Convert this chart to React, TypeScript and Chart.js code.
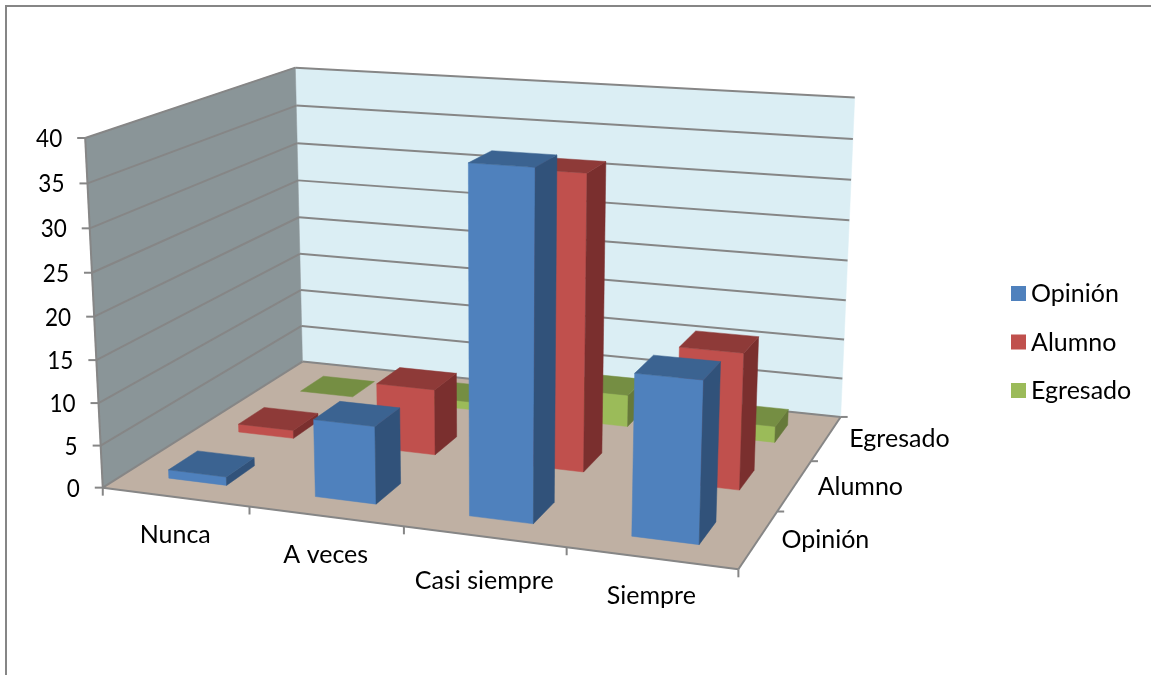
import React, { useEffect, useRef } from "react";
import { Chart, BarController, registerables } from "chart.js";

// Chart content
const categories = ["Nunca", "A veces", "Casi siempre", "Siempre"];
const depthLabels = ["Opinión", "Alumno", "Egresado"];
const opinion = [1, 9, 39, 18];
const alumno = [1, 8, 35, 16];
const egresado = [0, 1, 4, 2];
const valueTicks = [0, 5, 10, 15, 20, 25, 30, 35, 40];

// Face colours per series: front, top, side
const blueFaces = ["#4f81bd", "#3b6391", "#31527a"];
const redFaces = ["#c0504d", "#8e3a38", "#7a2f2e"];
const greenFaces = ["#9bbb59", "#758e43", "#66793a"];

// Perspective camera: where the corners of the unit box land on the canvas
const boxCorners: [number[], number[]][] = [
  [[0, 0, 0], [103.3, 487.5]],
  [[1, 0, 0], [738, 570]],
  [[1, 1, 0], [841, 416]],
  [[0, 1, 0], [302, 362]],
  [[0, 0, 1], [85, 137.5]],
  [[0, 1, 1], [295.5, 67.7]],
  [[1, 1, 1], [854.7, 98]],
];

// Extra drop of the category labels below the front edge
const categoryDrop = [38, 39, 44, 38];

function solve(a: number[][], b: number[]) {
  const n = b.length;
  const m = a.map((row, i) => [...row, b[i]]);
  for (let c = 0; c < n; c++) {
    let p = c;
    for (let r = c + 1; r < n; r++) if (Math.abs(m[r][c]) > Math.abs(m[p][c])) p = r;
    [m[c], m[p]] = [m[p], m[c]];
    for (let r = 0; r < n; r++) {
      if (r === c) continue;
      const f = m[r][c] / m[c][c];
      for (let k = c; k <= n; k++) m[r][k] -= f * m[c][k];
    }
  }
  return m.map((row, i) => row[n] / row[i]);
}

function buildCamera() {
  const rows: number[][] = [];
  const rhs: number[] = [];
  for (const [[u, v, w], [x, y]] of boxCorners) {
    rows.push([u, v, w, 1, 0, 0, 0, 0, -x * u, -x * v, -x * w]);
    rhs.push(x);
    rows.push([0, 0, 0, 0, u, v, w, 1, -y * u, -y * v, -y * w]);
    rhs.push(y);
  }
  const ata = Array.from({ length: 11 }, (_, i) =>
    Array.from({ length: 11 }, (_, j) => rows.reduce((s, r) => s + r[i] * r[j], 0))
  );
  const atb = Array.from({ length: 11 }, (_, i) => rows.reduce((s, r, k) => s + r[i] * rhs[k], 0));
  return solve(ata, atb);
}

const cam = buildCamera();
function project(u: number, v: number, w: number): [number, number] {
  const d = cam[8] * u + cam[9] * v + cam[10] * w + 1;
  return [
    (cam[0] * u + cam[1] * v + cam[2] * w + cam[3]) / d,
    (cam[4] * u + cam[5] * v + cam[6] * w + cam[7]) / d,
  ];
}

function fillPoly(ctx: CanvasRenderingContext2D, pts: [number, number][], color: string) {
  ctx.beginPath();
  pts.forEach(([x, y], i) => (i ? ctx.lineTo(x, y) : ctx.moveTo(x, y)));
  ctx.closePath();
  ctx.fillStyle = color;
  ctx.fill();
  ctx.strokeStyle = color;
  ctx.lineWidth = 0.5;
  ctx.stroke();
}

function strokeLine(ctx: CanvasRenderingContext2D, a: [number, number], b: [number, number]) {
  ctx.beginPath();
  ctx.moveTo(a[0], a[1]);
  ctx.lineTo(b[0], b[1]);
  ctx.stroke();
}

// Bar controller that paints each bar as a prism standing on the projected floor
class Bar3DController extends BarController {
  static id = "bar3d";
  static defaults = { ...BarController.defaults };
  static overrides = BarController.overrides;

  draw() {
    const chart = this.chart;
    const ctx = chart.ctx;
    const { x: xs, y: ys, depth } = chart.scales as any;
    const meta = this.getMeta();
    const slot = depth.width / depth.ticks.length;
    const centre = depth.getPixelForValue(meta.index) - depth.left;
    const v0 = (centre - slot * 0.2) / depth.width;
    const v1 = (centre + slot * 0.2) / depth.width;
    const faces = (this.getDataset() as any).faces as string[];
    ctx.save();
    for (const el of meta.data as any[]) {
      const u0 = (el.x - el.width / 2 - xs.left) / xs.width;
      const u1 = (el.x + el.width / 2 - xs.left) / xs.width;
      const h = (ys.bottom - el.y) / ys.height;
      if (h > 0) {
        fillPoly(ctx, [project(u0, v0, 0), project(u1, v0, 0), project(u1, v0, h), project(u0, v0, h)], faces[0]);
        fillPoly(ctx, [project(u1, v0, 0), project(u1, v1, 0), project(u1, v1, h), project(u1, v0, h)], faces[2]);
      }
      fillPoly(ctx, [project(u0, v0, h), project(u1, v0, h), project(u1, v1, h), project(u0, v1, h)], faces[1]);
    }
    ctx.restore();
  }
}

Chart.register(...registerables, Bar3DController);

const FONT = "25px Lato, Carlito, sans-serif";
const GRID = "#868686";

// Walls, floor, axes and legend around the prisms
const sceneFrame = {
  id: "sceneFrame",
  beforeDatasetsDraw(chart: any) {
    const ctx: CanvasRenderingContext2D = chart.ctx;
    const { y: ys } = chart.scales;
    const level = (t: number) => (ys.bottom - ys.getPixelForValue(t)) / ys.height;
    ctx.save();

    // Frame of the chart on its top and left
    ctx.strokeStyle = GRID;
    ctx.lineWidth = 2;
    ctx.beginPath();
    ctx.moveTo(6, 675);
    ctx.lineTo(6, 6);
    ctx.lineTo(1151, 6);
    ctx.stroke();

    fillPoly(ctx, [project(0, 1, 0), project(1, 1, 0), project(1, 1, 1), project(0, 1, 1)], "#dbeef4");
    fillPoly(ctx, [project(0, 0, 0), project(0, 1, 0), project(0, 1, 1), project(0, 0, 1)], "#8a9598");
    fillPoly(ctx, [project(0, 0, 0), project(1, 0, 0), project(1, 1, 0), project(0, 1, 0)], "#bfb0a3");

    // Gridlines on both walls, with a tick and label at the front edge
    ctx.strokeStyle = GRID;
    ctx.lineWidth = 2;
    ctx.fillStyle = "#000";
    ctx.font = FONT;
    ctx.textAlign = "right";
    ctx.textBaseline = "middle";
    for (const t of valueTicks) {
      const w = level(t);
      const front = project(0, 0, w);
      const back = project(0, 1, w);
      strokeLine(ctx, front, back);
      strokeLine(ctx, back, project(1, 1, w));
      strokeLine(ctx, [front[0] - 8, front[1]], front);
      const label = String(t);
      ctx.fillText(label, front[0] - 23, front[1] + 1, ctx.measureText(label).width * 0.9);
    }
    strokeLine(ctx, project(0, 0, 0), project(0, 0, 1));

    // Floor edges and the category axis
    strokeLine(ctx, project(0, 0, 0), project(1, 0, 0));
    strokeLine(ctx, project(1, 0, 0), project(1, 1, 0));
    ctx.textAlign = "center";
    categories.forEach((name, i) => {
      const at = project((i + 0.5) / categories.length, 0, 0);
      ctx.fillText(name, at[0], at[1] + categoryDrop[i]);
    });
    for (let i = 0; i <= categories.length; i++) {
      const at = project(i / categories.length, 0, 0);
      strokeLine(ctx, at, [at[0], at[1] + 8]);
    }

    // Depth axis along the right edge of the floor
    ctx.textAlign = "left";
    depthLabels.forEach((name, i) => {
      const at = project(1, (i + 0.5) / depthLabels.length, 0);
      ctx.fillText(name, at[0] + 23, at[1] + 1);
    });
    for (let i = 1; i <= depthLabels.length; i++) {
      const at = project(1, i / depthLabels.length, 0);
      strokeLine(ctx, at, [at[0] + 7, at[1]]);
    }
    ctx.restore();
  },
  afterDatasetsDraw(chart: any) {
    const ctx: CanvasRenderingContext2D = chart.ctx;
    ctx.save();
    ctx.font = FONT;
    ctx.textAlign = "left";
    ctx.textBaseline = "middle";
    chart.data.datasets.forEach((ds: any, i: number) => {
      const top = 286 + i * 48.5;
      ctx.fillStyle = ds.faces[0];
      ctx.fillRect(1011, top, 15, 15);
      ctx.fillStyle = "#000";
      ctx.fillText(ds.label, 1031, top + 8);
    });
    ctx.restore();
  },
};

export default function App() {
  const ref = useRef<HTMLCanvasElement>(null);
  useEffect(() => {
    const chart = new Chart(ref.current!, {
      type: "bar3d" as any,
      data: {
        labels: categories,
        datasets: [
          { label: depthLabels[0], data: opinion, faces: blueFaces },
          { label: depthLabels[1], data: alumno, faces: redFaces },
          { label: depthLabels[2], data: egresado, faces: greenFaces },
        ] as any,
      },
      options: {
        animation: false,
        responsive: false,
        layout: { padding: 0 },
        grouped: false,
        barPercentage: 0.4,
        categoryPercentage: 1,
        plugins: { legend: { display: false }, tooltip: { enabled: false } },
        scales: {
          x: { type: "category", offset: true, stacked: true, display: false },
          y: { type: "linear", min: 0, max: 40, stacked: false, display: false },
          depth: { axis: "x", type: "category", labels: depthLabels, offset: true, display: false },
        },
      } as any,
      plugins: [sceneFrame],
    });
    return () => chart.destroy();
  }, []);
  return (
    <canvas
      ref={ref}
      width={1151}
      height={675}
      style={{ position: "fixed", left: 0, top: 0, width: 1151, height: 675 }}
    />
  );
}
